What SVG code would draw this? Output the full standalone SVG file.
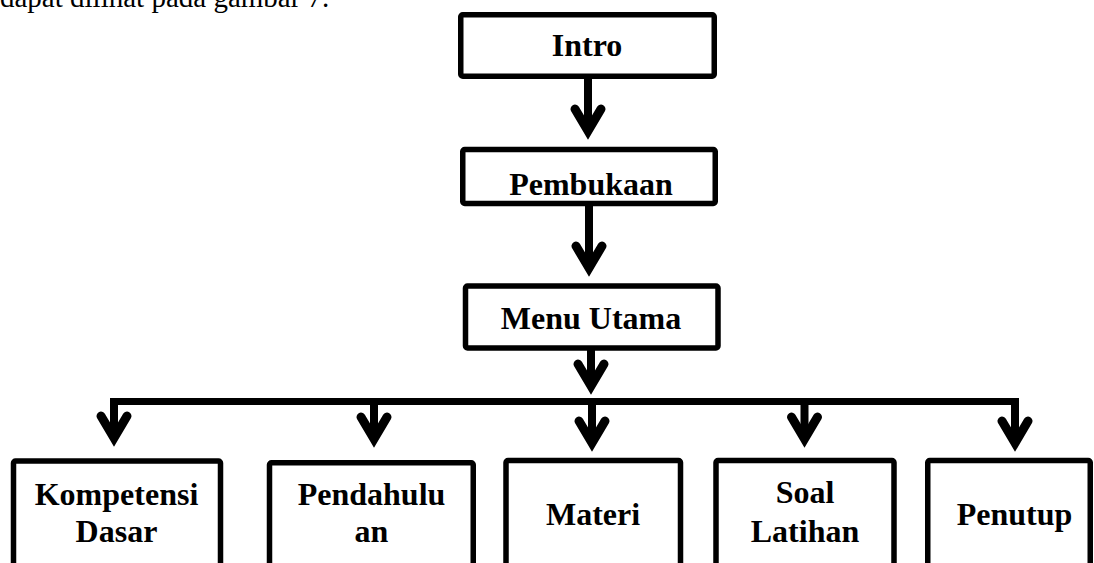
<svg xmlns="http://www.w3.org/2000/svg" width="1094" height="563" viewBox="0 0 1094 563">
<style>
.box{fill:#fff;stroke:#000;stroke-width:5.5;}
.lbl{font-family:"Liberation Serif","Times New Roman",serif;font-weight:bold;font-size:32px;text-anchor:middle;fill:#000;}
.cap{font-family:"Liberation Serif","Times New Roman",serif;font-size:29px;fill:#000;}
.shaft{stroke:#000;stroke-width:8;fill:none;}
.bar{stroke:#000;stroke-width:7;fill:none;}
</style>
<defs>
<marker id="vhead" markerUnits="userSpaceOnUse" markerWidth="60" markerHeight="60" refX="0" refY="0" orient="auto" overflow="visible">
<path d="M -22 -13 L 0 0 L -22 13" fill="none" stroke="#000" stroke-width="9" stroke-linecap="round" stroke-linejoin="miter" stroke-miterlimit="10"/>
</marker>
</defs>
<rect width="1094" height="563" fill="#fff"/>
<text class="cap" x="0" y="7">dapat dilihat pada gambar 7.</text>
<g id="connectors">
<line class="shaft" x1="588" y1="79" x2="588" y2="131" marker-end="url(#vhead)"/>
<line class="shaft" x1="589" y1="206" x2="589" y2="268" marker-end="url(#vhead)"/>
<line class="shaft" x1="591" y1="350" x2="591" y2="386" marker-end="url(#vhead)"/>
<line class="bar" x1="110" y1="401.5" x2="1019" y2="401.5"/>
<line class="shaft" x1="114" y1="398" x2="114" y2="438" marker-end="url(#vhead)"/>
<line class="shaft" x1="374" y1="398" x2="374" y2="439" marker-end="url(#vhead)"/>
<line class="shaft" x1="592" y1="398" x2="592" y2="443" marker-end="url(#vhead)"/>
<line class="shaft" x1="804.5" y1="398" x2="804.5" y2="439" marker-end="url(#vhead)"/>
<line class="shaft" x1="1015" y1="398" x2="1015" y2="443" marker-end="url(#vhead)"/>
</g>
<g id="intro">
<rect class="box" x="460.75" y="14.75" width="253.5" height="61.5" rx="2"/>
<text class="lbl" x="587" y="56">Intro</text>
</g>
<g id="pembukaan">
<rect class="box" x="462.75" y="149.5" width="252.5" height="54" rx="2"/>
<text class="lbl" x="591" y="195">Pembukaan</text>
</g>
<g id="menu-utama">
<rect class="box" x="465.5" y="286" width="252.5" height="62" rx="2"/>
<text class="lbl" x="591" y="329">Menu Utama</text>
</g>
<g id="kompetensi-dasar">
<rect class="box" x="13.5" y="461" width="207" height="120" rx="2"/>
<text class="lbl" x="116.5" y="505">Kompetensi</text>
<text class="lbl" x="116.5" y="542">Dasar</text>
</g>
<g id="pendahuluan">
<rect class="box" x="269.5" y="462.75" width="203.75" height="120" rx="2"/>
<text class="lbl" x="371.5" y="505">Pendahulu</text>
<text class="lbl" x="371.5" y="542">an</text>
</g>
<g id="materi">
<rect class="box" x="506" y="460.5" width="174.5" height="120" rx="2"/>
<text class="lbl" x="593" y="525">Materi</text>
</g>
<g id="soal-latihan">
<rect class="box" x="716" y="460.5" width="178" height="120" rx="2"/>
<text class="lbl" x="805" y="503">Soal</text>
<text class="lbl" x="805" y="542">Latihan</text>
</g>
<g id="penutup">
<rect class="box" x="927.75" y="460.5" width="162.5" height="120" rx="2"/>
<text class="lbl" x="1014.5" y="525">Penutup</text>
</g>
</svg>
